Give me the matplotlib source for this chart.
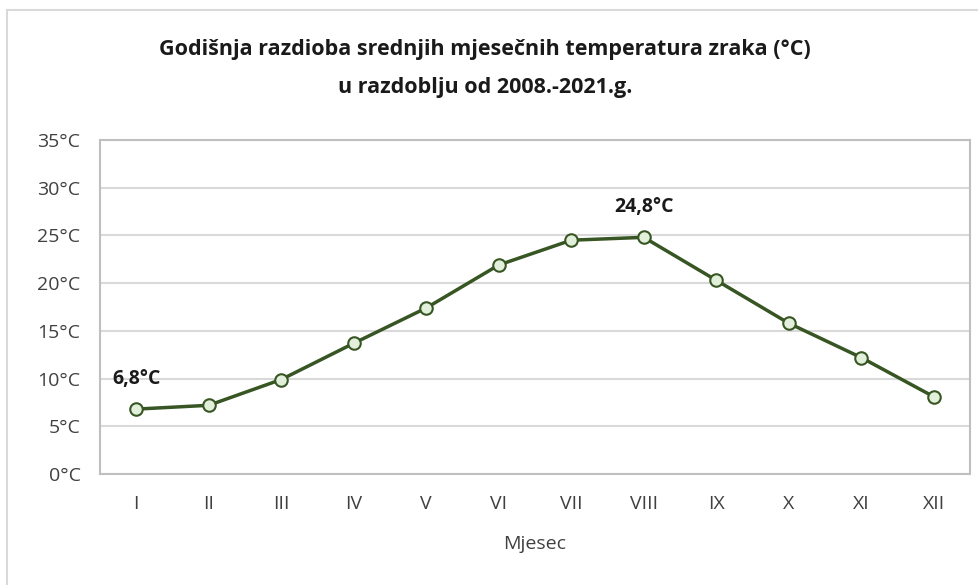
import matplotlib.pyplot as plt
from matplotlib.patches import Rectangle

# podaci
mjeseci = ["I", "II", "III", "IV", "V", "VI", "VII", "VIII", "IX", "X", "XI", "XII"]
temperature = [6.8, 7.2, 9.9, 13.7, 17.4, 21.9, 24.5, 24.8, 20.3, 15.8, 12.2, 8.1]
y_ticks = [0, 5, 10, 15, 20, 25, 30, 35]
oznake = {0: "6,8°C", 7: "24,8°C"}

plt.rcParams['font.family'] = ['Open Sans', 'DejaVu Sans']

fig = plt.figure(figsize=(9.79, 5.85), dpi=100)
fig.patches.append(Rectangle((7/979, -0.05), 1.1, 1 - 10/585 + 0.05, transform=fig.transFigure,
                             fill=False, edgecolor='#d9d9d9', linewidth=1.5))

ax = fig.add_axes([100/979, 111/585, 870/979, 334/585])
x = list(range(len(mjeseci)))
ax.plot(x, temperature, color='#375623', linewidth=2.5, marker='o', markersize=9,
        markerfacecolor='#e2efda', markeredgecolor='#375623', markeredgewidth=1.5, zorder=3)

for i, txt in oznake.items():
    ax.annotate(txt, (i, temperature[i]), xytext=(0, 22), textcoords='offset points',
                ha='center', va='center', fontsize=14, fontweight='bold', color='#1a1a1a')

ax.set_xlim(-0.5, 11.5)
ax.set_ylim(0, 35)
ax.set_xticks(x)
ax.set_xticklabels(mjeseci)
ax.set_yticks(y_ticks)
ax.set_yticklabels([f"{v}°C" for v in y_ticks])
ax.tick_params(length=0, labelsize=14, colors='#404040')
ax.tick_params(axis='y', pad=14)
ax.tick_params(axis='x', pad=15)
ax.grid(axis='y', color='#d9d9d9', linewidth=1.5)
ax.set_axisbelow(True)
for s in ax.spines.values():
    s.set_color('#bfbfbf')
    s.set_linewidth(1.5)

ax.set_xlabel("Mjesec", fontsize=14, color='#404040', labelpad=16)
fig.text(485/979, 1 - 50/585, "Godišnja razdioba srednjih mjesečnih temperatura zraka (°C)",
         ha='center', va='center', fontsize=15.5, fontweight='bold', color='#1a1a1a')
fig.text(485/979, 1 - 87/585, "u razdoblju od 2008.-2021.g.",
         ha='center', va='center', fontsize=15.5, fontweight='bold', color='#1a1a1a')

fig.savefig("out.png", dpi=100)
